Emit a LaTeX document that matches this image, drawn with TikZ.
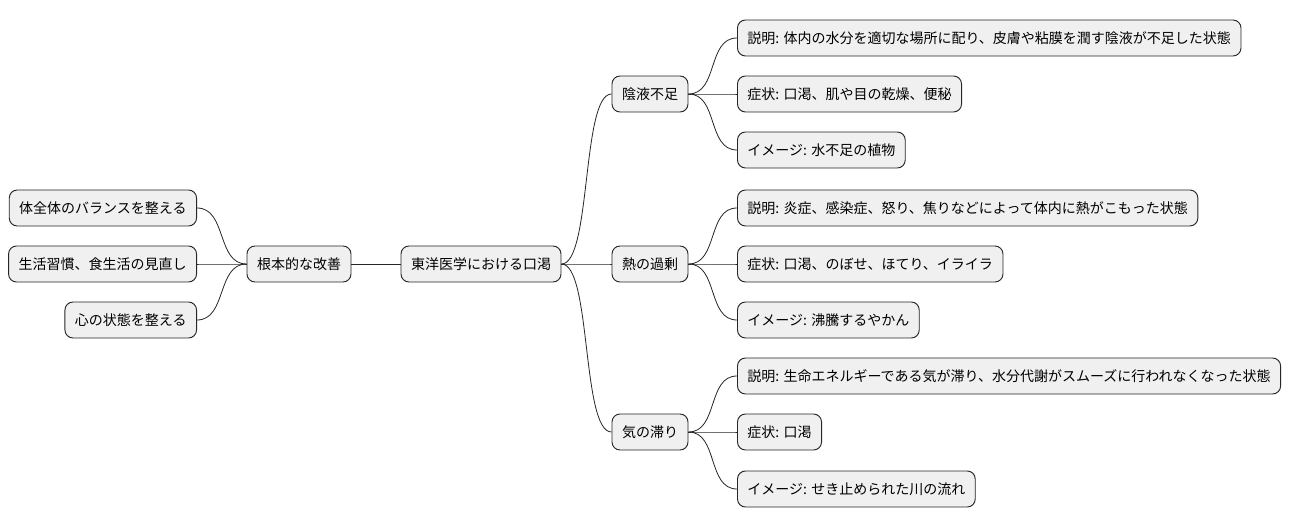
\documentclass[tikz,border=0pt]{standalone}
\usepackage{fontspec}
\setmainfont{Noto Sans CJK JP}
\begin{document}
\begin{tikzpicture}[x=0.75pt,y=-0.75pt,
  box/.style={draw=black!85,fill=black!6,rounded corners=6pt,line width=0.7pt,minimum height=27pt,inner xsep=7.5pt,inner ysep=0pt,font=\fontsize{10.5}{12}\selectfont},
  ln/.style={draw=black!85,line width=0.6pt}]
\useasboundingbox (0,0) rectangle (1296,527);
\node[box] (root) at (481,264) {東洋医学における口渇};
\node[box] (kon) at (299,264) {根本的な改善};
\node[box,anchor=east] (l1) at (197,208) {体全体のバランスを整える};
\node[box,anchor=east] (l2) at (197,264) {生活習慣、食生活の見直し};
\node[box,anchor=east] (l3) at (197,320) {心の状態を整える};
\node[box] (a) at (650,94) {陰液不足};
\node[box] (b) at (650,264) {熱の過剰};
\node[box] (c) at (650,432) {気の滞り};
\node[box,anchor=west] (a1) at (737,38) {説明: 体内の水分を適切な場所に配り、皮膚や粘膜を潤す陰液が不足した状態};
\node[box,anchor=west] (a2) at (737,94) {症状: 口渇、肌や目の乾燥、便秘};
\node[box,anchor=west] (a3) at (737,150) {イメージ: 水不足の植物};
\node[box,anchor=west] (b1) at (737,208) {説明: 炎症、感染症、怒り、焦りなどによって体内に熱がこもった状態};
\node[box,anchor=west] (b2) at (737,264) {症状: 口渇、のぼせ、ほてり、イライラ};
\node[box,anchor=west] (b3) at (737,320) {イメージ: 沸騰するやかん};
\node[box,anchor=west] (c1) at (737,376) {説明: 生命エネルギーである気が滞り、水分代謝がスムーズに行われなくなった状態};
\node[box,anchor=west] (c2) at (737,432) {症状: 口渇};
\node[box,anchor=west] (c3) at (737,489) {イメージ: せき止められた川の流れ};
\draw[ln] (kon.east) -- (root.west);
\foreach \n in {l1,l2,l3} \draw[ln] (\n.east) .. controls +(30,0) and +(-30,0) .. (kon.west);
\foreach \n in {a,b,c} \draw[ln] (root.east) .. controls +(30,0) and +(-30,0) .. (\n.west);
\foreach \p in {a,b,c} \foreach \k in {1,2,3} \draw[ln] (\p.east) .. controls +(30,0) and +(-30,0) .. (\p\k.west);
\end{tikzpicture}
\end{document}
